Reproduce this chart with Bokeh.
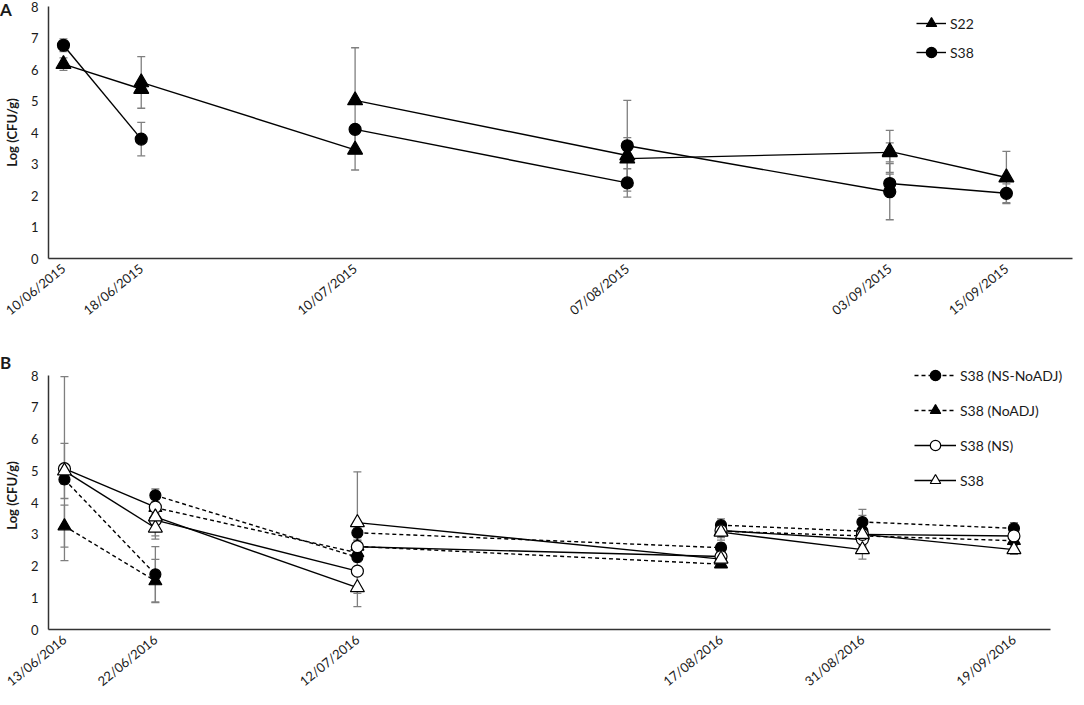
from bokeh.plotting import figure
from bokeh.models import (ColumnDataSource, Whisker, TeeHead, FixedTicker, Range1d,
                          Legend, LegendItem, Div)
from bokeh.layouts import column
from bokeh.embed import file_html
from bokeh.resources import INLINE

# ---------------- data: panel A ----------------
dates_A = ["10/06/2015", "18/06/2015", "10/07/2015", "07/08/2015", "03/09/2015", "15/09/2015"]
days_A = [0, 8, 30, 58, 85, 97]
# each sampling interval i runs from date i to date i+1 (start value, end value)
S22_start = [6.17, 5.59, 5.02, 3.17, 3.40]
S22_start_err = [0.20, 0.82, 1.67, 0.67, 0.67]
S22_end = [5.38, 3.45, 3.27, 3.37, 2.57]
S22_end_err = [0.10, 0.64, 0.20, 0.30, 0.83]
S38A_start = [6.77, None, 4.10, 3.58, 2.38]
S38A_start_err = [0.20, None, 0.15, 1.44, 0.30]
S38A_end = [3.79, None, 2.40, 2.12, 2.07]
S38A_end_err = [0.53, None, 0.45, 0.89, 0.30]

# ---------------- data: panel B ----------------
dates_B = ["13/06/2016", "22/06/2016", "12/07/2016", "17/08/2016", "31/08/2016", "19/09/2016"]
days_B = [0, 9, 29, 65, 79, 94]
NSNoADJ_start = [4.73, 4.23, 3.05, 3.29, 3.39]
NSNoADJ_start_err = [0.15, 0.20, 0.15, 0.20, 0.40]
NSNoADJ_end = [1.74, 2.28, 2.58, 3.10, 3.19]
NSNoADJ_end_err = [0.87, 0.15, 0.15, 0.50, 0.18]
NoADJ_start = [3.26, 3.84, 2.62, 3.10, 2.95]
NoADJ_start_err = [0.66, 0.20, 0.20, 0.20, 0.20]
NoADJ_end = [1.53, 2.42, 2.06, 2.95, 2.80]
NoADJ_end_err = [0.68, 0.20, 0.10, 0.20, 0.15]
NS_start = [5.07, 3.45, 2.61, 3.12, 3.00]
NS_start_err = [2.90, 0.50, 0.20, 0.20, 0.20]
NS_end = [3.86, 1.84, 2.30, 2.84, 2.95]
NS_end_err = [0.10, 0.70, 0.15, 0.20, 0.15]
S38B_start = [5.00, 3.55, 3.37, 3.07, 3.00]
S38B_start_err = [0.87, 0.10, 1.60, 0.25, 0.20]
S38B_end = [3.20, 1.32, 2.22, 2.52, 2.52]
S38B_end_err = [0.35, 0.60, 0.15, 0.30, 0.15]

y_ticks = [0, 1, 2, 3, 4, 5, 6, 7, 8]

FONT = "Lato"
TXT = "#1a1a1a"
ERR = "#7f7f7f"


def build(days, start, start_err, end, end_err):
    seg = dict(x0=[], y0=[], x1=[], y1=[])
    pts = dict(x=[], y=[], upper=[], lower=[])
    for i in range(len(start)):
        if start[i] is None:
            continue
        seg["x0"].append(days[i]); seg["y0"].append(start[i])
        seg["x1"].append(days[i + 1]); seg["y1"].append(end[i])
        for d, v, e in ((days[i], start[i], start_err[i]), (days[i + 1], end[i], end_err[i])):
            pts["x"].append(d); pts["y"].append(v)
            pts["upper"].append(v + e); pts["lower"].append(v - e)
    return ColumnDataSource(seg), ColumnDataSource(pts)


def make_fig(fw, fh, days, dates, xr, xbounds, ytop, borders):
    p = figure(frame_width=fw, frame_height=fh, output_backend="svg", toolbar_location=None,
               x_range=Range1d(*xr), y_range=Range1d(0, ytop),
               min_border_left=borders[0], min_border_right=borders[1],
               min_border_top=borders[2], min_border_bottom=borders[3])
    p.outline_line_color = None
    p.border_fill_alpha = 0
    p.background_fill_alpha = 0
    p.xgrid.visible = False
    p.ygrid.visible = False
    for ax in (p.xaxis, p.yaxis):
        ax.axis_line_color = "#333333"
        ax.axis_line_width = 1.5
        ax.major_tick_line_color = None
        ax.minor_tick_line_color = None
        ax.major_tick_out = 0
        ax.major_tick_in = 0
        ax.major_label_text_font = FONT
        ax.major_label_text_color = TXT
    p.xaxis.bounds = xbounds
    p.xaxis.ticker = FixedTicker(ticks=days)
    p.xaxis.major_label_overrides = {d: lab for d, lab in zip(days, dates)}
    p.xaxis.major_label_orientation = 0.68
    p.xaxis.major_label_text_font_size = "13px"
    p.xaxis.major_label_standoff = 8
    p.yaxis.bounds = (0, 8)
    p.yaxis.ticker = FixedTicker(ticks=y_ticks)
    p.yaxis.major_label_text_font_size = "13px"
    p.yaxis.major_label_standoff = 10
    p.yaxis.axis_label = "Log (CFU/g)"
    p.yaxis.axis_label_text_font = FONT
    p.yaxis.axis_label_text_font_style = "bold"
    p.yaxis.axis_label_text_font_size = "13px"
    p.yaxis.axis_label_text_color = TXT
    p.yaxis.axis_label_standoff = 8
    return p


def add_series(p, srcs, marker, fill, dash, size):
    seg_src, pts_src = srcs
    seg = p.segment(x0="x0", y0="y0", x1="x1", y1="y1", source=seg_src,
                    line_color="black", line_width=1.4, line_dash=dash)
    sc = p.scatter(x="x", y="y", source=pts_src, marker=marker, size=size,
                   fill_color=fill, line_color="black", line_width=1.2)
    return [seg, sc]


def add_whiskers(p, pts_src):
    w = Whisker(source=pts_src, base="x", upper="upper", lower="lower", dimension="height",
                line_color=ERR, line_width=1.3,
                upper_head=TeeHead(size=8, line_color=ERR, line_width=1.3),
                lower_head=TeeHead(size=8, line_color=ERR, line_width=1.3))
    p.add_layout(w)


def legend(items, loc, gw, spacing):
    return Legend(items=items, location=loc, orientation="vertical",
                  glyph_width=gw, glyph_height=26, spacing=spacing, padding=0, margin=0,
                  label_standoff=4, label_text_font=FONT, label_text_font_size="14px",
                  label_text_color=TXT, background_fill_alpha=0, border_line_color=None)


def letter(t, margin):
    return Div(text=t, width=20, height=20, margin=margin,
               styles={"font-family": FONT, "font-weight": "bold", "font-size": "17px",
                       "line-height": "20px", "color": TXT})


# ---------------- panel A ----------------
pA = make_fig(1024, 252, days_A, dates_A, (-1.54, 103.8), (-1.54, 103.8), 8.0, (42, 2, 6, 70))
sA = [build(days_A, S22_start, S22_start_err, S22_end, S22_end_err),
      build(days_A, S38A_start, S38A_start_err, S38A_end, S38A_end_err)]
for s in sA:
    add_whiskers(pA, s[1])
rA1 = add_series(pA, sA[0], "triangle", "black", "solid", 15)
rA2 = add_series(pA, sA[1], "circle", "black", "solid", 12)
pA.add_layout(legend([LegendItem(label="S22", renderers=rA1),
                      LegendItem(label="S38", renderers=rA2)], (868, 193), 30, 3))

# ---------------- panel B ----------------
pB = make_fig(1022, 268, days_B, dates_B, (-1.58, 99.6), (-1.58, 97.6), 8.45, (46, 0, 33, 60))
sB = [build(days_B, NSNoADJ_start, NSNoADJ_start_err, NSNoADJ_end, NSNoADJ_end_err),
      build(days_B, NoADJ_start, NoADJ_start_err, NoADJ_end, NoADJ_end_err),
      build(days_B, NS_start, NS_start_err, NS_end, NS_end_err),
      build(days_B, S38B_start, S38B_start_err, S38B_end, S38B_end_err)]
for s in sB:
    add_whiskers(pB, s[1])
rB1 = add_series(pB, sB[0], "circle", "black", "4 3", 11)
rB2 = add_series(pB, sB[1], "triangle", "black", "4 3", 13)
rB3 = add_series(pB, sB[2], "circle", "white", "solid", 12)
rB4 = add_series(pB, sB[3], "triangle", "white", "solid", 14)
pB.add_layout(legend([LegendItem(label="S38 (NS-NoADJ)", renderers=rB1),
                      LegendItem(label="S38 (NoADJ)", renderers=rB2),
                      LegendItem(label="S38 (NS)", renderers=rB3),
                      LegendItem(label="S38", renderers=rB4)], (866, 136), 42, 9))

divA = letter("A", (0, 0, -20, 0))
divB = letter("B", (25, 0, -45, 0))

layout = column(divA, pA, divB, pB, spacing=0)
open("out.html", "w").write(file_html(layout, INLINE))
